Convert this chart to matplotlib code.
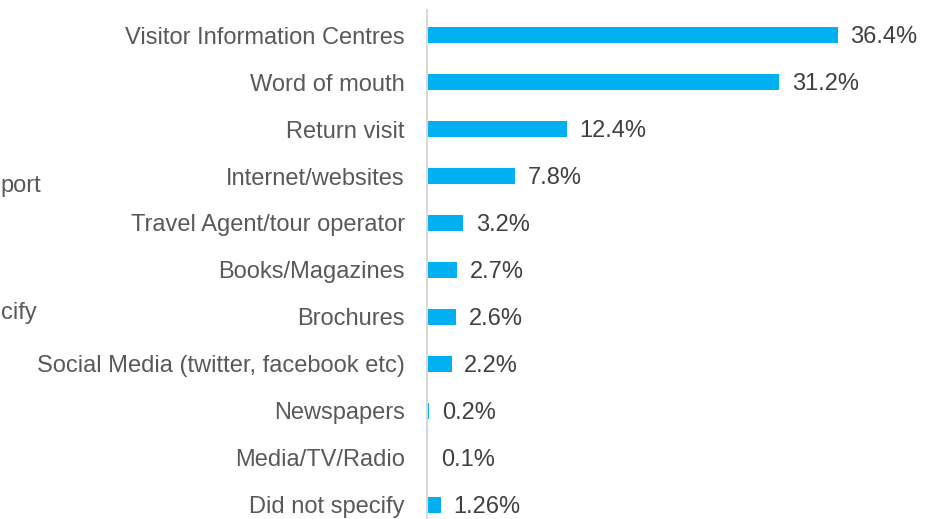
import numpy as np
import matplotlib
matplotlib.use("Agg")
import matplotlib.pyplot as plt

# Data
categories = ["Visitor Information Centres", "Word of mouth", "Return visit",
              "Internet/websites", "Travel Agent/tour operator", "Books/Magazines",
              "Brochures", "Social Media (twitter, facebook etc)", "Newspapers",
              "Media/TV/Radio", "Did not specify"]
values = [36.4, 31.2, 12.4, 7.8, 3.2, 2.7, 2.6, 2.2, 0.2, 0.1, 1.26]
value_labels = ["36.4%", "31.2%", "12.4%", "7.8%", "3.2%", "2.7%", "2.6%",
                "2.2%", "0.2%", "0.1%", "1.26%"]

plt.rcParams['font.family'] = ['Liberation Sans', 'DejaVu Sans']

W, H = 935, 519
fig = plt.figure(figsize=(W / 100, H / 100), dpi=100)
ax = fig.add_axes([427 / W, 0, (W - 427) / W, (H - 10) / H])

pos = np.arange(len(categories))
ax.barh(pos, values, height=0.36, color='#00B0F0')
ax.set_ylim(10.298, -0.532)
ax.set_xlim(0, 45)

for p, v, lab in zip(pos, values, value_labels):
    ax.annotate(lab, (v, p), xytext=(9, -1.5), textcoords='offset points',
                va='center', ha='left', fontsize=17, color='#404040')

ax.set_yticks(pos)
ax.set_yticklabels(categories, fontsize=17, color='#595959')
ax.tick_params(axis='y', length=0, pad=16)
ax.set_xticks([])
for s in ['top', 'right', 'bottom']:
    ax.spines[s].set_visible(False)
ax.spines['left'].set_color('#d9d9d9')
ax.spines['left'].set_linewidth(1.5)

# visible pieces of labels from a neighbouring chart at the left edge
fig.text(0.5 / W, 1 - 186 / H, "port", ha='left', va='center',
         fontsize=17, color='#595959')
fig.text(0.5 / W, 1 - 313 / H, "cify", ha='left', va='center',
         fontsize=17, color='#595959')

plt.savefig("out.png", dpi=100)
